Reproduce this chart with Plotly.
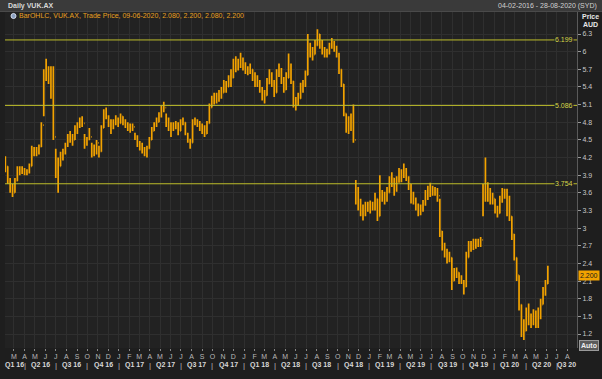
import plotly.graph_objects as go
import pandas as pd

# ---------------- data (weekly bars) ----------------
first_week = "2016-02-05"
first_open = 4.20

week_low = [3.95, 3.75, 3.6, 3.53, 3.6, 3.8, 3.9, 3.92, 3.9, 3.9,
            3.93, 4.05, 4.22, 4.22, 4.25, 4.38, 4.9, 5.5, 5.45, 5.2,
            4.5, 3.85, 3.6, 4.05, 4.15, 4.25, 4.38, 4.45, 4.4, 4.5,
            4.6, 4.7, 4.72, 4.35, 4.4, 4.5, 4.2, 4.22, 4.25, 4.2,
            4.3, 4.7, 4.85, 4.72, 4.6, 4.68, 4.75, 4.72, 4.78, 4.75,
            4.7, 4.65, 4.62, 4.65, 4.5, 4.38, 4.32, 4.27, 4.22, 4.2,
            4.35, 4.5, 4.65, 4.72, 4.8, 4.88, 4.97, 4.72, 4.65, 4.55,
            4.65, 4.68, 4.58, 4.65, 4.75, 4.58, 4.45, 4.35, 4.45, 4.75,
            4.72, 4.65, 4.6, 4.55, 4.6, 4.78, 5.05, 5.1, 5.12, 5.15,
            5.2, 5.3, 5.3, 5.4, 5.4, 5.55, 5.65, 5.68, 5.72, 5.68,
            5.62, 5.6, 5.62, 5.5, 5.4, 5.4, 5.3, 5.17, 5.12, 5.25,
            5.45, 5.4, 5.23, 5.3, 5.57, 5.45, 5.3, 5.35, 5.55, 5.45,
            5.05, 5.0, 5.08, 5.2, 5.3, 5.4, 5.6, 5.9, 5.85, 5.95,
            6.1, 6.05, 5.95, 5.9, 5.9, 5.95, 6.05, 6.0, 5.9, 5.62,
            5.4, 4.9, 4.62, 4.6, 4.65, 4.45, 3.4, 3.3, 3.2, 3.13,
            3.2, 3.28, 3.25, 3.3, 3.3, 3.12, 3.2, 3.45, 3.4, 3.45,
            3.6, 3.7, 3.55, 3.62, 3.77, 3.78, 3.85, 3.8, 3.65, 3.42,
            3.4, 3.3, 3.2, 3.22, 3.28, 3.38, 3.48, 3.53, 3.55, 3.55,
            3.45, 2.85, 2.62, 2.5, 2.4, 2.42, 1.95, 2.1, 2.15, 2.05,
            2.05, 1.87, 2.0, 2.5, 2.6, 2.63, 2.65, 2.68, 2.68, 3.2,
            3.45, 3.45, 3.4, 3.4, 3.25, 3.18, 3.25, 3.43, 3.5, 3.2,
            3.12, 2.8, 2.45, 2.1, 1.6, 1.15, 1.1, 1.25, 1.35, 1.3,
            1.35, 1.3, 1.3, 1.45, 1.7, 1.85, 2.05]

week_high = [4.22, 4.05, 3.85, 3.75, 3.85, 4.05, 4.05, 4.05, 4.02, 4.0,
             4.1, 4.4, 4.38, 4.38, 4.42, 4.8, 5.7, 5.88, 5.75, 5.75,
             5.75, 4.35, 4.2, 4.3, 4.35, 4.45, 4.6, 4.65, 4.6, 4.75,
             4.8, 4.88, 4.9, 4.6, 4.55, 4.7, 4.45, 4.42, 4.5, 4.4,
             4.75, 5.02, 5.05, 4.92, 4.85, 4.85, 4.92, 4.88, 4.95, 4.9,
             4.85, 4.8, 4.78, 4.78, 4.62, 4.58, 4.48, 4.45, 4.38, 4.4,
             4.55, 4.72, 4.8, 4.88, 4.97, 5.08, 5.15, 4.95, 4.88, 4.8,
             4.8, 4.82, 4.8, 4.85, 4.88, 4.8, 4.62, 4.52, 4.85, 4.88,
             4.85, 4.82, 4.78, 4.75, 4.82, 5.12, 5.25, 5.3, 5.3, 5.35,
             5.4, 5.52, 5.5, 5.6, 5.7, 5.88, 5.92, 5.88, 5.98, 5.9,
             5.82, 5.75, 5.8, 5.7, 5.65, 5.6, 5.52, 5.4, 5.35, 5.55,
             5.7, 5.65, 5.52, 5.7, 5.8, 5.72, 5.57, 5.65, 5.97, 5.8,
             5.5, 5.23, 5.3, 5.47, 5.52, 5.68, 6.3, 6.15, 6.08, 6.2,
             6.38, 6.3, 6.2, 6.08, 6.05, 6.15, 6.23, 6.18, 6.1, 5.98,
             5.7, 5.45, 4.95, 4.9, 4.95, 5.1, 3.82, 3.7, 3.5, 3.4,
             3.45, 3.45, 3.47, 3.45, 3.6, 3.5, 3.9, 3.65, 3.62, 3.7,
             3.88, 3.95, 3.85, 3.88, 4.02, 4.0, 4.1, 4.02, 3.88, 3.75,
             3.62, 3.52, 3.42, 3.4, 3.48, 3.65, 3.72, 3.77, 3.72, 3.7,
             3.68, 3.5, 2.95, 2.75, 2.65, 2.6, 2.5, 2.32, 2.33, 2.25,
             2.2, 2.12, 2.6, 2.78, 2.78, 2.82, 2.82, 2.82, 2.85, 3.75,
             4.2, 3.78, 3.68, 3.6, 3.5, 3.38, 3.55, 3.68, 3.67, 3.67,
             3.55, 3.2, 2.9, 2.5, 2.2, 1.7, 1.45, 1.65, 1.72, 1.55,
             1.62, 1.6, 1.65, 1.8, 2.0, 2.12, 2.36]

week_close = [4.05, 3.8, 3.7, 3.6, 3.8, 3.98, 3.97, 4.0, 3.95, 3.96,
              4.05, 4.3, 4.3, 4.28, 4.38, 4.75, 5.55, 5.6, 5.55, 5.65,
              4.55, 4.1, 4.05, 4.2, 4.3, 4.4, 4.5, 4.55, 4.5, 4.65,
              4.75, 4.85, 4.78, 4.45, 4.5, 4.55, 4.25, 4.35, 4.45, 4.3,
              4.7, 4.95, 4.9, 4.8, 4.7, 4.8, 4.85, 4.78, 4.9, 4.8,
              4.75, 4.7, 4.7, 4.72, 4.55, 4.45, 4.4, 4.35, 4.3, 4.35,
              4.5, 4.65, 4.75, 4.8, 4.9, 5.0, 5.05, 4.8, 4.75, 4.7,
              4.7, 4.75, 4.65, 4.8, 4.8, 4.6, 4.5, 4.45, 4.8, 4.8,
              4.78, 4.7, 4.7, 4.6, 4.78, 5.05, 5.15, 5.2, 5.2, 5.25,
              5.3, 5.45, 5.4, 5.5, 5.55, 5.75, 5.8, 5.75, 5.85, 5.8,
              5.7, 5.65, 5.7, 5.55, 5.45, 5.5, 5.35, 5.2, 5.25, 5.45,
              5.6, 5.5, 5.3, 5.6, 5.7, 5.5, 5.35, 5.55, 5.75, 5.5,
              5.15, 5.1, 5.2, 5.4, 5.45, 5.6, 6.1, 6.0, 5.95, 6.1,
              6.3, 6.15, 6.05, 5.95, 6.0, 6.1, 6.15, 6.05, 5.95, 5.7,
              5.45, 4.95, 4.7, 4.75, 4.85, 4.5, 3.6, 3.45, 3.3, 3.25,
              3.35, 3.35, 3.4, 3.38, 3.5, 3.2, 3.6, 3.55, 3.48, 3.6,
              3.8, 3.85, 3.65, 3.8, 3.95, 3.9, 4.0, 3.85, 3.75, 3.5,
              3.5, 3.4, 3.25, 3.35, 3.4, 3.6, 3.55, 3.7, 3.6, 3.65,
              3.55, 2.95, 2.7, 2.6, 2.5, 2.5, 2.1, 2.25, 2.25, 2.1,
              2.1, 2.0, 2.5, 2.7, 2.65, 2.72, 2.75, 2.75, 2.8, 3.6,
              3.7, 3.6, 3.55, 3.5, 3.35, 3.25, 3.45, 3.6, 3.6, 3.5,
              3.2, 2.9, 2.5, 2.2, 1.7, 1.3, 1.25, 1.5, 1.5, 1.4,
              1.55, 1.45, 1.5, 1.7, 1.9, 2.05, 2.2]

last_price = 2.200
level_values = [6.199, 5.086, 3.754]
y_tick_values = [1.2, 1.5, 1.8, 2.1, 2.4, 2.7, 3.0, 3.3, 3.6, 3.9, 4.2, 4.5, 4.8, 5.1, 5.4, 5.7, 6.0, 6.3]
y_tick_labels = ["1.2", "1.5", "1.8", "2.1", "2.4", "2.7", "3", "3.3", "3.6", "3.9", "4.2", "4.5", "4.8", "5.1", "5.4", "5.7", "6", "6.3"]
month_letters = "JFMAMJJASOND"
quarter_labels = ["Q1 16", "Q2 16", "Q3 16", "Q4 16", "Q1 17", "Q2 17", "Q3 17", "Q4 17",
                  "Q1 18", "Q2 18", "Q3 18", "Q4 18", "Q1 19", "Q2 19", "Q3 19", "Q4 19",
                  "Q1 20", "Q2 20", "Q3 20"]
view_start = "2016-02-04"
view_end = "2020-08-29"

title_text = "Daily VUK.AX"
legend_text = "BarOHLC, VUK.AX, Trade Price, 09-06-2020, 2.080, 2.200, 2.080, 2.200"
range_text = "04-02-2016 - 28-08-2020 (SYD)"

# ---------------- table for the library ----------------
dates = pd.date_range(first_week, periods=len(week_close), freq="7D")
df = pd.DataFrame({"date": dates, "low": week_low, "high": week_high, "close": week_close})
df["open"] = df["close"].shift(1).fillna(first_open)

ORANGE = "#f2a200"
YEL = "#bcbc2a"
PLOT_BG = "#222222"
GRID = "#2f2f2f"
FONT = "Liberation Sans"

fig = go.Figure()
fig.add_trace(go.Ohlc(
    x=df["date"], open=df["open"], high=df["high"], low=df["low"], close=df["close"],
    increasing=dict(line=dict(color=ORANGE, width=1.7)),
    decreasing=dict(line=dict(color=ORANGE, width=1.7)),
    tickwidth=0.25, hoverinfo="skip",
))

month_ticks = pd.date_range("2016-03-01", "2020-08-01", freq="MS")
month_text = [month_letters[d.month - 1] for d in month_ticks]

vs, ve = pd.Timestamp(view_start), pd.Timestamp(view_end)
W, H = 572.0, 336.0  # plot area size in px
def px_x(px):
    return (px - 5) / W
def px_y(py):
    return (348 - py) / H

annotations = []
shapes = []

# quarter labels and separators
q_starts = pd.date_range("2016-01-01", "2020-07-01", freq="QS")
for lab, qs in zip(quarter_labels, q_starts):
    qe = qs + pd.offsets.QuarterBegin(startingMonth=1)
    a = max(qs, vs)
    b = min(qe, ve)
    mid = a + (b - a) / 2
    annotations.append(dict(x=mid, xref="x", y=px_y(365), yref="paper", text="<b>" + lab + "</b>",
                            showarrow=False, font=dict(size=7, color="#d8d8d8", family=FONT),
                            xanchor="center", yanchor="middle"))
    if qs > vs:
        annotations.append(dict(x=qs, xref="x", y=px_y(365), yref="paper", text="|",
                                showarrow=False, font=dict(size=8, color="#bbbbbb", family=FONT),
                                xanchor="center", yanchor="middle"))

# horizontal level lines
for v in level_values:
    shapes.append(dict(type="line", xref="paper", yref="y", x0=0, x1=1, y0=v, y1=v,
                       line=dict(color=YEL, width=1), layer="above"))
    annotations.append(dict(x=px_x(574), xref="paper", y=v, yref="y", text=f"{v:.3f}",
                            showarrow=False, xanchor="right", yanchor="middle",
                            font=dict(size=7, color="#d6d64a", family=FONT),
                            bgcolor=PLOT_BG, borderpad=0))

# header bar
shapes.append(dict(type="rect", xref="paper", yref="paper", x0=px_x(0), x1=px_x(602), y0=px_y(11), y1=px_y(0),
                   fillcolor="#3a3a3a", line=dict(width=0), layer="above"))
shapes.append(dict(type="line", xref="paper", yref="paper", x0=px_x(0), x1=px_x(602), y0=px_y(11.5), y1=px_y(11.5),
                   line=dict(color="#4a4a4a", width=1), layer="above"))
annotations.append(dict(x=px_x(6), xref="paper", y=px_y(6), yref="paper", text="<b>" + title_text + "</b>",
                        showarrow=False, xanchor="left", yanchor="middle",
                        font=dict(size=7, color="#d8d8d8", family=FONT)))
annotations.append(dict(x=px_x(599), xref="paper", y=px_y(6), yref="paper", text=range_text,
                        showarrow=False, xanchor="right", yanchor="middle",
                        font=dict(size=7, color="#d0d0d0", family=FONT)))
# legend line
shapes.append(dict(type="circle", xref="paper", yref="paper", x0=px_x(11), x1=px_x(16), y0=px_y(18.5), y1=px_y(13.5),
                   fillcolor="#8aa0c0", line=dict(color="#d0d8e8", width=1), layer="above"))
annotations.append(dict(x=px_x(17), xref="paper", y=px_y(16), yref="paper", text=legend_text,
                        showarrow=False, xanchor="left", yanchor="middle",
                        font=dict(size=7, color="#e8a020", family=FONT)))
# axis title
annotations.append(dict(x=px_x(590), xref="paper", y=px_y(17), yref="paper", text="<b>Price</b>",
                        showarrow=False, xanchor="center", yanchor="middle",
                        font=dict(size=7, color="#e8e8e8", family=FONT)))
annotations.append(dict(x=px_x(590), xref="paper", y=px_y(25), yref="paper", text="<b>AUD</b>",
                        showarrow=False, xanchor="center", yanchor="middle",
                        font=dict(size=7, color="#e8e8e8", family=FONT)))
# last price label
annotations.append(dict(x=px_x(578), xref="paper", y=last_price, yref="y", text=f"{last_price:.3f}",
                        showarrow=False, xanchor="left", yanchor="middle",
                        font=dict(size=7, color="#1a1a1a", family=FONT),
                        bgcolor=ORANGE, borderpad=1))
# Auto button
annotations.append(dict(x=px_x(589), xref="paper", y=px_y(345), yref="paper", text="<b>Auto</b>",
                        showarrow=False, xanchor="center", yanchor="middle",
                        font=dict(size=7, color="#f0f0f0", family=FONT),
                        bgcolor="#5a5a5a", bordercolor="#9a9a9a", borderwidth=1, borderpad=1))

fig.update_layout(
    width=602, height=379,
    margin=dict(l=5, r=25, t=12, b=31, autoexpand=False),
    paper_bgcolor="#1e1e1e", plot_bgcolor=PLOT_BG,
    showlegend=False,
    font=dict(family=FONT, size=7, color="#c8c8c8"),
    xaxis=dict(type="date", range=[view_start, view_end], tickvals=month_ticks, ticktext=month_text,
               showgrid=True, gridcolor=GRID, gridwidth=1, zeroline=False, showline=False,
               ticks="outside", ticklen=2, tickcolor="#888888", automargin=False,
               tickfont=dict(size=7, color="#b8b8b8"), rangeslider=dict(visible=False), fixedrange=True),
    yaxis=dict(side="right", range=[0.962, 6.674], tickvals=y_tick_values, ticktext=y_tick_labels,
               showgrid=True, gridcolor=GRID, gridwidth=1, zeroline=False, automargin=False,
               showline=True, linecolor="#5a5a5a", ticks="outside", ticklen=3, tickcolor="#999999",
               tickfont=dict(size=7, color="#c8c8c8"), fixedrange=True),
    annotations=annotations, shapes=shapes,
)

fig.write_html("out.html", config={"displayModeBar": False},
               post_script="document.body.style.margin='0';document.body.style.background='#1e1e1e';")
